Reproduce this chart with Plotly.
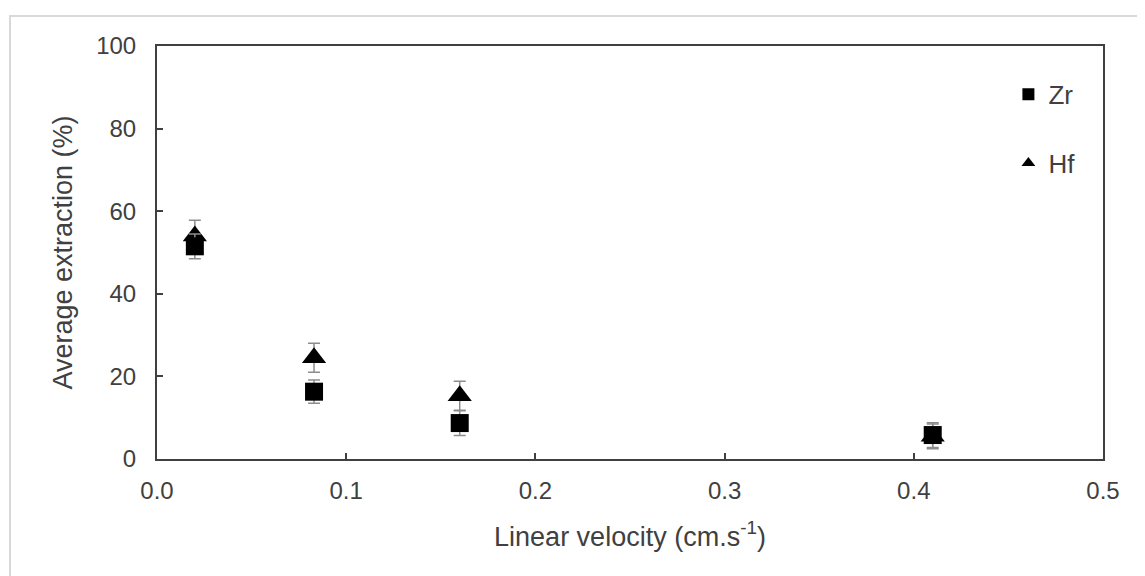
import plotly.graph_objects as go

velocity = [0.02, 0.083, 0.16, 0.41]
zr_extraction = [51.5, 16.3, 8.7, 5.8]
zr_error = [3.0, 2.8, 3.0, 3.0]
hf_extraction = [54.0, 24.5, 15.3, 5.5]
hf_error = [3.8, 3.5, 3.5, 3.0]

x_ticks = [0.0, 0.1, 0.2, 0.3, 0.4, 0.5]
x_tick_labels = ["0.0", "0.1", "0.2", "0.3", "0.4", "0.5"]
y_ticks = [0, 20, 40, 60, 80, 100]

font_family = "Liberation Sans, Arial, sans-serif"
text_color = "#404040"

fig = go.Figure()

fig.add_trace(go.Scatter(
    x=velocity, y=hf_extraction, mode="markers", name="Hf",
    legendgroup="hf", legendrank=2,
    marker=dict(symbol="triangle-up", size=21, color="black"),
    error_y=dict(type="data", array=hf_error, color="#8c8c8c", thickness=1.5, width=6),
))
fig.add_trace(go.Scatter(
    x=velocity, y=zr_extraction, mode="markers", name="Zr",
    legendgroup="zr", legendrank=1,
    marker=dict(symbol="square", size=18, color="black"),
    error_y=dict(type="data", array=zr_error, color="#8c8c8c", thickness=1.5, width=6),
))

fig.update_layout(
    width=1145, height=576,
    margin=dict(l=149, r=50, t=38, b=125),
    paper_bgcolor="white", plot_bgcolor="white",
    font=dict(family=font_family, size=24, color=text_color),
    showlegend=True,
    legend=dict(
        x=0.9, y=0.94, xanchor="left", yanchor="top",
        font=dict(size=26, color=text_color),
        tracegroupgap=32, bgcolor="rgba(0,0,0,0)",
        itemsizing="constant",
    ),
    xaxis=dict(
        range=[0, 0.5], tickvals=x_ticks, ticktext=x_tick_labels,
        showgrid=False, zeroline=False,
        showline=True, linecolor="#404040", linewidth=2, mirror=True,
        ticks="inside", ticklen=6, tickcolor="#404040", tickwidth=1.5,
        ticklabelstandoff=9,
        tickfont=dict(size=24, color=text_color),
        title=dict(text="Linear velocity (cm.s<sup>-1</sup>)", font=dict(size=27, color=text_color), standoff=24),
    ),
    yaxis=dict(
        range=[0, 100], tickvals=y_ticks,
        showgrid=False, zeroline=False,
        showline=True, linecolor="#404040", linewidth=2, mirror=True,
        ticks="inside", ticklen=6, tickcolor="#404040", tickwidth=1.5,
        ticklabelstandoff=14,
        tickfont=dict(size=24, color=text_color),
        title=dict(text="Average extraction (%)", font=dict(size=27, color=text_color), standoff=16),
    ),
)

# outer light frame of the original figure
fig.add_shape(type="rect", xref="paper", yref="paper",
              x0=-0.1554, x1=1.1, y0=-0.35, y1=1.0726,
              line=dict(color="#d9d9d9", width=2), fillcolor="rgba(0,0,0,0)", layer="below")

fig.write_html("out.html")
